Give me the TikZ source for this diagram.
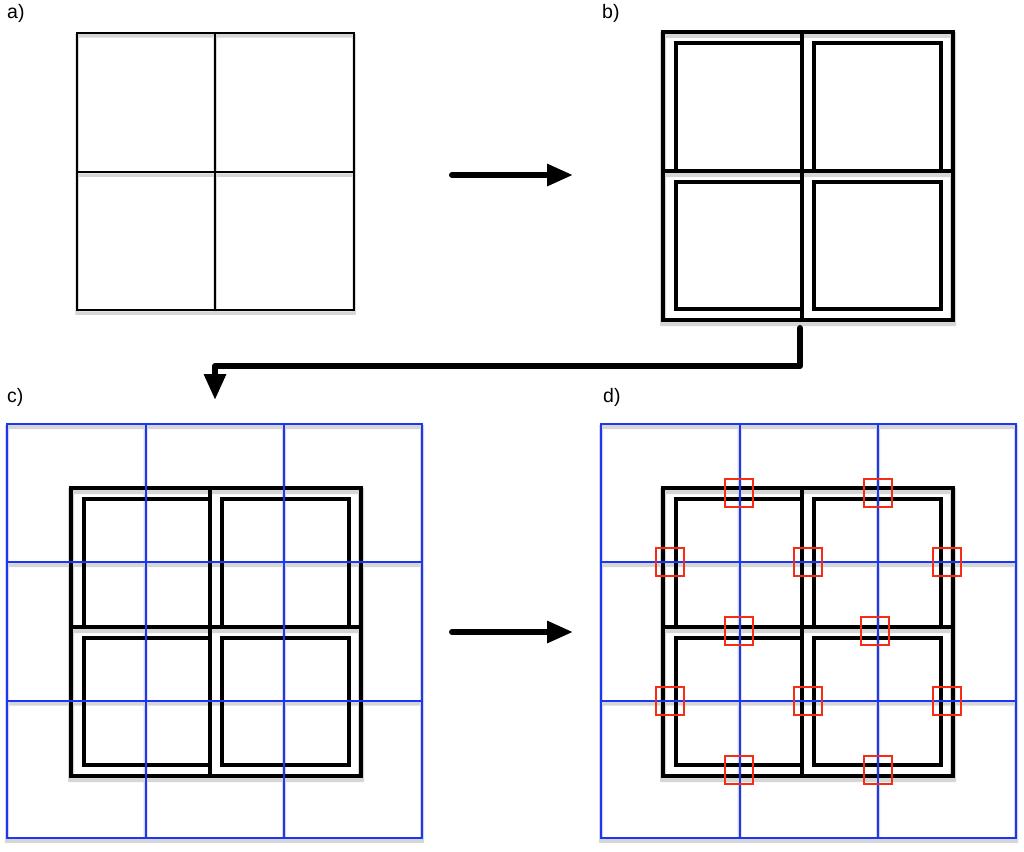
\documentclass[tikz,border=0pt]{standalone}
\usepackage{fontspec}
\setmainfont{Liberation Sans}
\usetikzlibrary{arrows.meta}
\definecolor{gridblue}{RGB}{25,55,245}
\definecolor{markred}{RGB}{245,45,20}
\tikzset{
  lbl/.style={anchor=west, inner sep=0pt, font=\fontsize{19.5}{22}\selectfont},
  thinline/.style={line width=2pt, draw=black},
  frameline/.style={line width=4pt, draw=black},
  gridline/.style={line width=2pt, draw=gridblue},
  markbox/.style={line width=2pt, draw=markred},
  shad/.style={draw=black, line width=#1},
  bigarrow/.style={line width=6pt, line cap=round, -{Triangle[length=26pt,width=21pt]}},
}
\newcommand\drawframe[1]{%
  \draw[#1] (0,0) rectangle (290,288);
  \draw[#1] (139,0) -- (139,288);
  \draw[#1] (0,139) -- (290,139);
  \draw[#1] (13,139) -- (13,11) -- (139,11);
  \draw[#1] (151,11) rectangle (278,139);
  \draw[#1] (139,150) -- (13,150) -- (13,277) -- (139,277);
  \draw[#1] (151,150) rectangle (278,277);
}
\newcommand\frameshadow[1]{%
  \draw[#1] (0,0) rectangle (290,288);
  \draw[#1] (0,139) -- (290,139);
}
\newcommand\drawgrid[1]{%
  \draw[#1] (0,0) rectangle (415,414);
  \draw[#1] (138.5,0) -- (138.5,414);
  \draw[#1] (277,0) -- (277,414);
  \draw[#1] (0,138) -- (415,138);
  \draw[#1] (0,276.7) -- (415,276.7);
}
\newcommand\drawsquare[1]{%
  \draw[#1] (0,0) rectangle (277,277);
  \draw[#1] (138,0) -- (138,277);
  \draw[#1] (0,139) -- (277,139);
}
\begin{document}
\begin{tikzpicture}[x=1pt,y=-1pt]
\useasboundingbox[fill=white] (0,0) rectangle (1024,851);

% ---------- shadows ----------
\begin{scope}[transparency group, opacity=0.16, transform canvas={yshift=-3pt}]
  \begin{scope}[shift={(77,33)}]\drawsquare{shad=3.5pt}\end{scope}
  \begin{scope}[shift={(663,32)}]\frameshadow{shad=6pt}\end{scope}
  \begin{scope}[shift={(71,488)}]\frameshadow{shad=6pt}\end{scope}
  \begin{scope}[shift={(663,488)}]\frameshadow{shad=6pt}\end{scope}
  \begin{scope}[shift={(7,424)}]\drawgrid{shad=4pt}\end{scope}
  \begin{scope}[shift={(601,424)}]\drawgrid{shad=4pt}\end{scope}
\end{scope}

% ---------- panel a ----------
\begin{scope}[shift={(77,33)}]
  \drawsquare{thinline}
  \coordinate (pa) at (138,139);
\end{scope}
\node[lbl] (la) at (7,13) {a)};

% ---------- panel b ----------
\begin{scope}[shift={(663,32)}]
  \drawframe{frameline}
  \coordinate (pb) at (139,139);
\end{scope}
\node[lbl] (lb) at (602,13) {b)};

% ---------- panel c ----------
\begin{scope}[shift={(71,488)}]
  \drawframe{frameline}
\end{scope}
\begin{scope}[shift={(7,424)}]
  \drawgrid{gridline}
  \coordinate (pc) at (207,207);
\end{scope}
\node[lbl] (lc) at (7,397) {c)};

% ---------- panel d ----------
\begin{scope}[shift={(663,488)}]
  \drawframe{frameline}
\end{scope}
\begin{scope}[shift={(601,424)}]
  \drawgrid{gridline}
  \coordinate (pd) at (207,207);
\end{scope}
\foreach \cx/\cy [count=\i] in {739/493, 877.5/493,
   670/562, 808/562, 947/562,
   739/631, 875/631,
   670/700.7, 808/700.7, 947/700.7,
   739/769.7, 877.5/769.7}{
  \draw[markbox] (\cx-14,\cy-14) rectangle (\cx+14,\cy+14);
}
\node[lbl] (ld) at (603,397) {d)};

% ---------- arrows ----------
\coordinate (a1s) at (452,175);
\coordinate (a1e) at (573,175);
\draw[bigarrow] (a1s) -- (a1e);

\coordinate (a2s) at (800,328);
\coordinate (a2m) at (800,366);
\coordinate (a2n) at (215,366);
\coordinate (a2e) at (215,400);
\draw[bigarrow, line join=round] (a2s) -- (a2m) -- (a2n) -- (a2e);

\coordinate (a3s) at (452,632);
\coordinate (a3e) at (573,632);
\draw[bigarrow] (a3s) -- (a3e);
\end{tikzpicture}
\end{document}
